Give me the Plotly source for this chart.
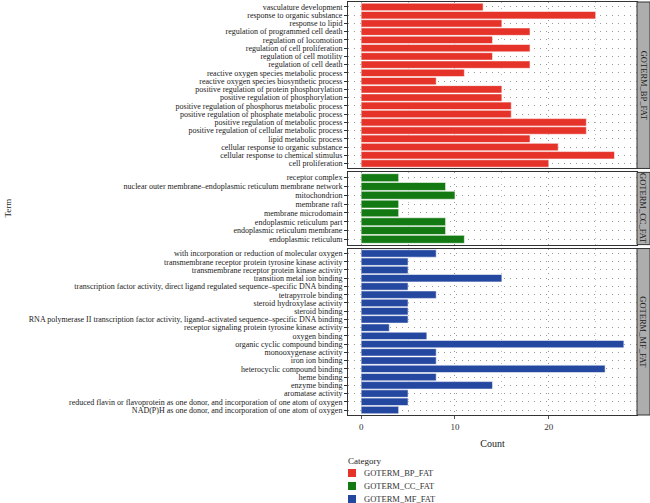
import plotly.graph_objects as go
from plotly.subplots import make_subplots

bp_terms = ["vasculature development", "response to organic substance", "response to lipid",
            "regulation of programmed cell death", "regulation of locomotion",
            "regulation of cell proliferation", "regulation of cell motility", "regulation of cell death",
            "reactive oxygen species metabolic process", "reactive oxygen species biosynthetic process",
            "positive regulation of protein phosphorylation", "positive regulation of phosphorylation",
            "positive regulation of phosphorus metabolic process",
            "positive regulation of phosphate metabolic process",
            "positive regulation of metabolic process", "positive regulation of cellular metabolic process",
            "lipid metabolic process", "cellular response to organic substance",
            "cellular response to chemical stimulus", "cell proliferation"]
bp_counts = [13, 25, 15, 18, 14, 18, 14, 18, 11, 8, 15, 15, 16, 16, 24, 24, 18, 21, 27, 20]

cc_terms = ["receptor complex", "nuclear outer membrane\u2013endoplasmic reticulum membrane network",
            "mitochondrion", "membrane raft", "membrane microdomain", "endoplasmic reticulum part",
            "endoplasmic reticulum membrane", "endoplasmic reticulum"]
cc_counts = [4, 9, 10, 4, 4, 9, 9, 11]

mf_terms = ["with incorporation or reduction of molecular oxygen",
            "transmembrane receptor protein tyrosine kinase activity",
            "transmembrane receptor protein kinase activity", "transition metal ion binding",
            "transcription factor activity, direct ligand regulated sequence\u2013specific DNA binding",
            "tetrapyrrole binding", "steroid hydroxylase activity", "steroid binding",
            "RNA polymerase II transcription factor activity, ligand\u2013activated sequence\u2013specific DNA binding",
            "receptor signaling protein tyrosine kinase activity", "oxygen binding",
            "organic cyclic compound binding", "monooxygenase activity", "iron ion binding",
            "heterocyclic compound binding", "heme binding", "enzyme binding", "aromatase activity",
            "reduced flavin or flavoprotein as one donor, and incorporation of one atom of oxygen",
            "NAD(P)H as one donor, and incorporation of one atom of oxygen"]
mf_counts = [8, 5, 5, 15, 5, 8, 5, 5, 5, 3, 7, 28, 8, 8, 26, 8, 14, 5, 5, 4]

categories = ["GOTERM_BP_FAT", "GOTERM_CC_FAT", "GOTERM_MF_FAT"]
colors = ["#E5332A", "#137A13", "#2447A0"]
x_ticks = [0, 10, 20]

groups = [(bp_terms, bp_counts), (cc_terms, cc_counts), (mf_terms, mf_counts)]
heights = [len(t) + 1.2 for t, _ in groups]

FONT = "Liberation Serif"
W, H = 650, 503
L, R, T, B = 348, 13, 2, 88
PW, PH = W - L - R, H - T - B


def px_x(p):
    return (p - L) / PW


def px_y(p):
    return (H - B - p) / PH


fig = make_subplots(rows=3, cols=1, shared_xaxes=True, row_heights=heights,
                    vertical_spacing=0.0095)

for i, ((terms, counts), cat, col) in enumerate(zip(groups, categories, colors)):
    fig.add_trace(go.Bar(x=counts, y=terms, orientation="h", name=cat,
                         marker=dict(color=col, line=dict(color="rgba(255,255,255,0.55)", width=1)),
                         width=0.9, showlegend=False), row=i + 1, col=1)
    n = len(terms)
    fig.update_yaxes(categoryorder="array", categoryarray=list(reversed(terms)),
                     tickmode="array", tickvals=terms, ticktext=terms,
                     range=[-0.6, n - 0.4], ticks="outside", ticklen=3, tickcolor="#333",
                     tickfont=dict(family=FONT, size=8, color="#1a1a1a"), automargin=False,
                     showgrid=True, gridcolor="#999", griddash="1px,5px", gridwidth=1,
                     showline=True, mirror=True, linecolor="#333", linewidth=1,
                     zeroline=False, row=i + 1, col=1)
    fig.update_xaxes(range=[-1.4, 29.4], tickvals=x_ticks, showgrid=True, gridcolor="#999",
                     griddash="1px,5px", gridwidth=1, automargin=False,
                     minor=dict(tickvals=[5, 15, 25], showgrid=True, gridcolor="#bbb",
                                griddash="1px,5px", gridwidth=1),
                     showline=True, mirror=True, linecolor="#333", linewidth=1,
                     zeroline=False, row=i + 1, col=1)

fig.update_xaxes(ticks="outside", ticklen=3, tickcolor="#555",
                 tickfont=dict(family=FONT, size=9, color="#333"),
                 title=dict(text="Count", font=dict(family=FONT, size=10, color="#222"), standoff=9),
                 row=3, col=1)

# facet strips
strip_w = 13 / PW
for i, cat in enumerate(categories):
    dom = fig.layout["yaxis" if i == 0 else f"yaxis{i+1}"].domain
    fig.add_shape(type="rect", xref="paper", yref="paper", x0=1, x1=1 + strip_w,
                  y0=dom[0], y1=dom[1], fillcolor="#ADADAD", line=dict(color="#333", width=1))
    fig.add_annotation(xref="paper", yref="paper", x=1 + strip_w / 2, y=(dom[0] + dom[1]) / 2,
                       xanchor="center", yanchor="middle",
                       text=cat, textangle=90, showarrow=False,
                       font=dict(family=FONT, size=8.5, color="#1a1a1a"))

fig.add_annotation(xref="paper", yref="paper", x=px_x(7), y=0.5, text="Term",
                   xanchor="center", yanchor="middle",
                   textangle=-90, showarrow=False, font=dict(family=FONT, size=9, color="#222"))

# legend (ggplot-style)
fig.add_annotation(xref="paper", yref="paper", x=px_x(346), y=px_y(461), text="Category",
                   xanchor="left", yanchor="middle", showarrow=False,
                   font=dict(family=FONT, size=9, color="#222"))
for cat, col, cy in zip(categories, colors, [473, 486, 499]):
    fig.add_shape(type="rect", xref="paper", yref="paper", x0=px_x(348), x1=px_x(356),
                  y0=px_y(cy + 4), y1=px_y(cy - 4), fillcolor=col, line=dict(width=0))
    fig.add_annotation(xref="paper", yref="paper", x=px_x(362), y=px_y(cy), text=cat,
                       xanchor="left", yanchor="middle", showarrow=False,
                       font=dict(family=FONT, size=8.5, color="#333"))

fig.update_layout(
    width=W, height=H,
    margin=dict(l=L, r=R, t=T, b=B),
    paper_bgcolor="white", plot_bgcolor="white",
    bargap=0.1, showlegend=False,
)

fig.write_html("out.html", config={"displayModeBar": False},
               post_script="document.body.style.margin='0';")
